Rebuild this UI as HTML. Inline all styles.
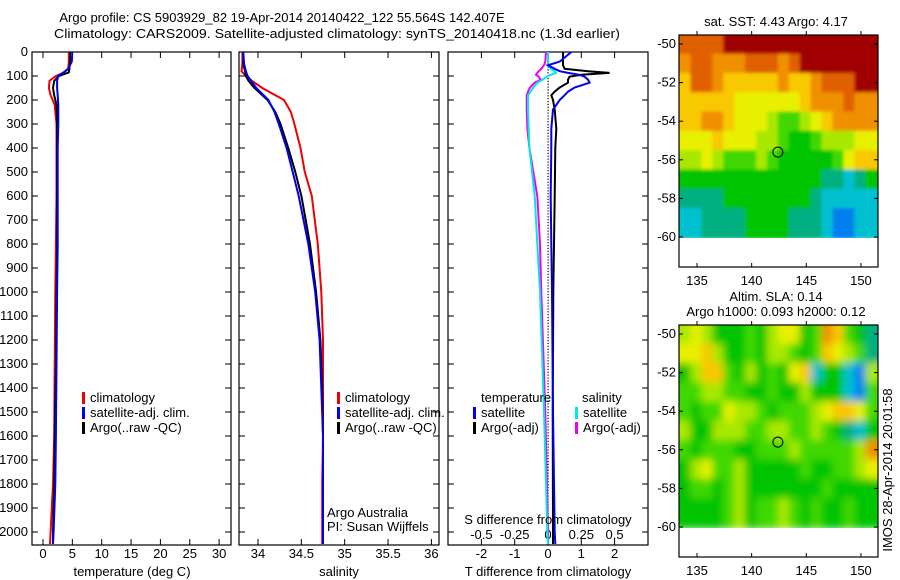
<!DOCTYPE html>
<html><head><meta charset="utf-8"><style>
body{margin:0;background:#fff;}
svg{display:block;font-family:"Liberation Sans",sans-serif;}
text{font-size:13px;fill:#000;}
</style></head><body>
<svg id="fig" width="900" height="580" viewBox="0 0 900 580" xmlns="http://www.w3.org/2000/svg">
<defs><filter id="blur" filterUnits="userSpaceOnUse" x="660" y="300" width="240" height="260"><feGaussianBlur stdDeviation="4"/></filter>
<filter id="blur1" filterUnits="userSpaceOnUse" x="660" y="10" width="240" height="260"><feGaussianBlur stdDeviation="1.5"/></filter>
<clipPath id="c1"><rect x="679" y="35" width="199" height="203"/></clipPath>
<clipPath id="c2"><rect x="679" y="325" width="199" height="203"/></clipPath></defs>
<text x="282" y="22" text-anchor="middle">Argo profile: CS 5903929_82 19-Apr-2014 20140422_122 55.564S 142.407E</text>
<text x="54" y="38" textLength="566" lengthAdjust="spacingAndGlyphs">Climatology: CARS2009. Satellite-adjusted climatology: synTS_20140418.nc (1.3d earlier)</text>
<g id="g"></g>
</svg>
<script>
// ---- data ----
const depthTicks=[0,100,200,300,400,500,600,700,800,900,1000,1100,1200,1300,1400,1500,1600,1700,1800,1900,2000];
const tTicks=[0,5,10,15,20,25,30];
const sTicks=[34,34.5,35,35.5,36];
const dtTicks=[-2,-1,0,1,2];
const dsTicks=[-0.5,-0.25,0,0.25,0.5];
const dsTickLabels=["-0.5","-0.25","0","0.25","0.5"];
const lonTicks=[135,140,145,150];
const latTicks=[-50,-52,-54,-56,-58,-60];

const tDepth=[0,40,70,85,100,120,150,180,220,300,400,600,800,1000,1300,1600,1800,2000,2050];
const tClim=[4.4,4.4,4.3,3.6,2.2,1.1,1.0,1.3,2.0,2.3,2.3,2.3,2.2,2.1,2.0,1.9,1.7,1.3,1.2];
const tSat=[5.0,4.9,4.3,3.5,2.6,2.4,2.4,2.5,2.6,2.6,2.5,2.5,2.5,2.4,2.3,2.2,2.1,1.8,1.7];
const tArgo=[4.6,4.6,4.5,4.4,2.7,1.9,1.7,1.9,2.3,2.4,2.4,2.4,2.4,2.3,2.2,2.0,1.9,1.7,1.7];

const sDepth=[0,50,80,100,120,150,200,250,300,400,500,600,800,1000,1200,1400,1600,1800,2000,2050];
const sClim=[33.82,33.82,33.81,33.86,33.93,34.05,34.3,34.38,34.42,34.49,34.54,34.62,34.69,34.73,34.75,34.75,34.75,34.74,34.74,34.74];
const sSat=[33.83,33.84,33.86,33.88,33.92,33.98,34.12,34.19,34.24,34.33,34.40,34.47,34.58,34.66,34.71,34.73,34.75,34.75,34.75,34.75];
const sArgo=[33.83,33.83,33.85,33.86,33.89,33.96,34.11,34.2,34.26,34.35,34.43,34.5,34.6,34.67,34.72,34.74,34.75,34.75,34.75,34.75];

const dDepth=[0,40,55,70,80,87,95,103,115,128,148,165,180,200,240,320,400,600,800,1000,1500,2000,2050];
const dtArgo=[0.45,0.45,0.45,0.5,1.2,1.85,1.0,0.65,0.6,0.6,0.35,0.2,0.1,0.15,0.2,0.25,0.22,0.2,0.18,0.16,0.14,0.15,0.15];
const dtSat=[0.7,0.35,0.0,0.2,0.35,0.6,0.95,1.1,1.2,1.25,0.8,0.6,0.5,0.35,0.15,0.1,0.1,0.08,0.1,0.12,0.15,0.2,0.22];
const dsArgo=[-0.015,-0.02,-0.03,-0.05,-0.07,-0.08,-0.09,-0.07,-0.055,-0.1,-0.135,-0.15,-0.16,-0.16,-0.16,-0.155,-0.14,-0.08,-0.06,-0.05,-0.02,0.0,0.0];
const dsSat=[0.0,0.0,0.0,0.02,0.05,0.06,0.02,-0.01,-0.04,-0.08,-0.11,-0.13,-0.15,-0.15,-0.15,-0.145,-0.14,-0.1,-0.08,-0.06,-0.03,-0.005,0.0];

const sstGrid=[
[10,10,10,10,11,11,11,11,11,11,11,11,11,11,11,11,11,11],
[9,10,10,9,9,9,10,10,10,9,10,11,11,11,11,11,11,11],
[8,10,10,9,8,8,8,8,8,9,8,8,9,10,10,10,11,11],
[8,8,8,8,8,7,7,7,7,7,7,8,9,9,9,10,9,9],
[8,8,9,9,8,7,7,7,6,5,5,6,7,8,9,9,9,9],
[7,7,7,8,7,7,7,6,6,5,4,4,5,6,6,6,7,7],
[6,6,7,6,5,5,5,6,5,4,4,4,4,4,5,7,8,8],
[4,4,4,4,4,4,4,4,4,4,4,4,4,3,3,2,3,4],
[3,3,3,3,4,4,4,4,4,4,4,4,3,2,2,2,2,2],
[2,2,3,3,3,3,4,4,4,4,3,3,3,2,1,1,2,2]];
const slaGrid=[
[6,7,6,4,4,4,5,4,6,7,7,4,5,9,8,5,4,3],
[7,7,8,6,4,4,5,4,6,6,5,4,5,8,7,6,5,3],
[4,6,8,8,5,4,6,4,5,4,7,8,2,4,4,2,1,6],
[5,5,6,6,5,5,4,4,5,4,4,6,4,4,4,2,1,5],
[5,4,5,5,7,6,6,5,4,5,5,5,6,7,8,8,7,5],
[6,4,4,6,6,6,5,5,6,6,5,5,6,5,4,3,2,4],
[5,4,5,5,5,4,4,5,5,5,6,5,5,5,5,5,6,9],
[4,6,7,5,5,6,4,4,4,4,4,5,4,4,5,5,6,7],
[4,5,5,4,5,6,4,4,4,4,4,4,4,5,4,4,4,4],
[4,4,4,4,5,6,4,5,5,6,5,4,5,4,4,5,4,4]];
const palette=["#0030d0","#0080f0","#00c0d0","#00b080","#00c400","#40d800","#a8e800","#e8f000","#f8c800","#f09000","#e06000","#a00000"];
const argoLon=142.4, argoLat=-55.6;

// ---- helpers ----
const NS="http://www.w3.org/2000/svg";
const G=document.getElementById('g');
function el(tag,attrs,txt){const e=document.createElementNS(NS,tag);for(const k in attrs)e.setAttribute(k,attrs[k]);if(txt!==undefined)e.textContent=txt;G.appendChild(e);return e;}
const yD=d=>52+d*0.24;
const xT=t=>43+t*5.87;
const xS=s=>258+(s-34)*86.7;
const xDT=t=>548+t*33.3;
const xDS=s=>548+s*133.2;
const xLon=l=>697+(l-135)*10.93;
const yLat1=l=>44+(-50-l)*19.3;
const yLat2=l=>334+(-50-l)*19.3;

function line(xs,ds,fx,col,name){
  const p=xs.map((v,i)=>fx(v).toFixed(1)+","+yD(ds[i]).toFixed(1)).join(" ");
  const e=el('polyline',{points:p,fill:'none',stroke:col,'stroke-width':2});
  
  
}
function panel(x0,x1,name){
  const r=el('rect',{x:x0,y:52,width:x1-x0,height:493,fill:'none',stroke:'#000','stroke-width':1.2});
  
  
  depthTicks.forEach(d=>{el('line',{x1:x0,x2:x0+6,y1:yD(d),y2:yD(d),stroke:'#000'});el('line',{x1:x1,x2:x1-6,y1:yD(d),y2:yD(d),stroke:'#000'});});
}
function xticks(ticks,fx,labels,ly,top){
  ticks.forEach((t,i)=>{const x=fx(t);
    el('line',{x1:x,x2:x,y1:545,y2:539,stroke:'#000'});
    if(top)el('line',{x1:x,x2:x,y1:52,y2:58,stroke:'#000'});
    const tx=el('text',{x:x,y:ly,'text-anchor':'middle'},labels?labels[i]:String(t));
    
    
  });
}
function legend(x,y,items){
  items.forEach((it,i)=>{
    el('rect',{x:x,y:y+i*15-10,width:3,height:12,fill:it[0]});
    const t=el('text',{x:x+8,y:y+i*15},it[1]);
    
    
  });
}

depthTicks.forEach(d=>{const t=el('text',{x:28,y:yD(d)+4,'text-anchor':'end'},String(d));
  
  });

panel(32,231,'temperature-panel');
xticks(tTicks,xT,null,558,true);
line(tClim,tDepth,xT,'#f00000','temp-climatology-line');
line(tArgo,tDepth,xT,'#000','temp-argo-line');
line(tSat,tDepth,xT,'#0000f0','temp-satellite-line');
legend(82,402,[['#f00000','climatology'],['#0000f0','satellite-adj. clim.'],['#000','Argo(..raw -QC)']]);
let t1=el('text',{x:132,y:576,'text-anchor':'middle'},'temperature (deg C)');


panel(239,439,'salinity-panel');
xticks(sTicks,xS,null,558,true);
line(sClim,sDepth,xS,'#f00000','sal-climatology-line');
line(sArgo,sDepth,xS,'#000','sal-argo-line');
line(sSat,sDepth,xS,'#0000f0','sal-satellite-line');
legend(337,402,[['#f00000','climatology'],['#0000f0','satellite-adj. clim.'],['#000','Argo(..raw -QC)']]);
el('text',{x:327,y:517},'Argo Australia');
el('text',{x:327,y:531},'PI: Susan Wijffels');
let t2=el('text',{x:339,y:576,'text-anchor':'middle'},'salinity');


panel(448,648,'difference-panel');
xticks(dtTicks,xDT,null,558,true);
dsTicks.forEach((s,i)=>{const t=el('text',{x:xDS(s),y:539,'text-anchor':'middle'},dsTickLabels[i]);
  });
for(let d=0;d<2050;d+=12)el('rect',{x:547.5,y:yD(d),width:1.2,height:1.2,fill:'#000'});
line(dsArgo,dDepth,xDS,'#f000f0','sdiff-argo-line');
line(dsSat,dDepth,xDS,'#00e8e8','sdiff-satellite-line');
line(dtArgo,dDepth,xDT,'#000','tdiff-argo-line');
line(dtSat,dDepth,xDT,'#0000f0','tdiff-satellite-line');
el('text',{x:481,y:402},'temperature');
el('text',{x:582,y:402},'salinity');
legend(473,417,[['#0000f0','satellite'],['#000','Argo(-adj)']]);
legend(575,417,[['#00e8e8','satellite'],['#f000f0','Argo(-adj)']]);
el('text',{x:548,y:524,'text-anchor':'middle'},'S difference from climatology');
let t3=el('text',{x:548,y:576,'text-anchor':'middle'},'T difference from climatology');


function map(grid,yLat,top,clip,filt,name){
  const g=document.createElementNS(NS,'g');g.setAttribute('clip-path','url(#'+clip+')');G.appendChild(g);
  const inner=document.createElementNS(NS,'g');inner.setAttribute('filter','url(#'+filt+')');g.appendChild(inner);
  grid.forEach((row,r)=>row.forEach((v,c)=>{
    let x0=xLon(133.4+c), x1=xLon(134.4+c)+0.5, y0=yLat(-50+0.5-r), y1=yLat(-50-0.5-r)+0.5;
    if(c===0)x0-=8; if(c===17)x1+=8; if(r===0)y0-=12; if(r===9)y1=yLat(-60.1);
    const e=document.createElementNS(NS,'rect');
    e.setAttribute('x',x0);e.setAttribute('y',y0);e.setAttribute('width',x1-x0);
    e.setAttribute('height',y1-y0);e.setAttribute('fill',palette[v]);
    
    
    inner.appendChild(e);
  }));
  el('rect',{x:679,y:yLat(-60.1),width:199,height:top+232-yLat(-60.1),fill:'#fff'});
  const b=el('rect',{x:679,y:top,width:199,height:232,fill:'none',stroke:'#000','stroke-width':1.2});
  
  latTicks.forEach(l=>{const y=yLat(l);el('line',{x1:679,x2:683,y1:y,y2:y,stroke:'#000'});el('line',{x1:878,x2:874,y1:y,y2:y,stroke:'#000'});
    el('text',{x:676,y:y+4,'text-anchor':'end'},String(l));});
  lonTicks.forEach(l=>{const x=xLon(l);el('line',{x1:x,x2:x,y1:top,y2:top-4,stroke:'#000'});el('line',{x1:x,x2:x,y1:top+232,y2:top+228,stroke:'#000'});
    el('text',{x:x,y:top+250,'text-anchor':'middle'},String(l));});
  const c=el('circle',{cx:xLon(argoLon),cy:yLat(argoLat),r:5,fill:'none',stroke:'#000','stroke-width':1});
  
}
map(sstGrid,yLat1,35,'c1','blur1','sst-map');
map(slaGrid,yLat2,325,'c2','blur','sla-map');
el('text',{x:776,y:26,'text-anchor':'middle'},'sat. SST: 4.43 Argo: 4.17');
el('text',{x:776,y:301,'text-anchor':'middle'},'Altim. SLA: 0.14');
el('text',{x:776,y:316,'text-anchor':'middle'},'Argo h1000: 0.093 h2000: 0.12');
el('text',{x:892,y:470,'text-anchor':'middle',transform:'rotate(-90 892 470)'},'IMOS 28-Apr-2014 20:01:58');
</script>
</body></html>
